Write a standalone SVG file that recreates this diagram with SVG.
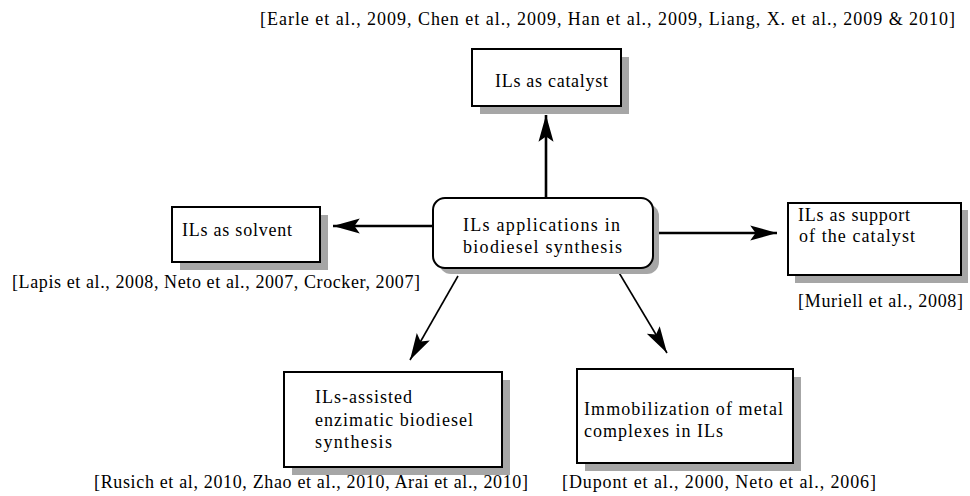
<svg xmlns="http://www.w3.org/2000/svg" width="970" height="496" viewBox="0 0 970 496">
<defs>
<style>
.box{fill:#fff;stroke:#000;stroke-width:2}
.sh{fill:#a6a6a6;stroke:none}
.thick{stroke:#000;stroke-width:2.6;fill:none}
.thin{stroke:#000;stroke-width:1.6;fill:none}
</style>
<marker id="ah" markerUnits="userSpaceOnUse" markerWidth="30" markerHeight="20" viewBox="-26 -8 28 16" refX="0" refY="0" orient="auto">
<path d="M0,0 L-25,-7 L-20,0 L-25,7 Z" fill="#000"/>
</marker>
</defs>
<rect width="970" height="496" fill="#fff"/>

<g id="connectors">
<line class="thick" x1="546" y1="198" x2="546" y2="115" marker-end="url(#ah)"/>
<line class="thick" x1="433" y1="226" x2="333" y2="226" marker-end="url(#ah)"/>
<line class="thick" x1="653" y1="233" x2="777" y2="233" marker-end="url(#ah)"/>
<line class="thin" x1="458" y1="276" x2="410" y2="360" marker-end="url(#ah)"/>
<line class="thin" x1="618" y1="271" x2="667" y2="353" marker-end="url(#ah)"/>
</g>

<g font-family="'Liberation Serif', 'Times New Roman', serif" font-size="18" fill="#000" lengthAdjust="spacing">
<g id="center">
<rect class="sh" x="439" y="204" width="220" height="70" rx="12"/>
<rect class="box" x="433" y="198" width="220" height="70" rx="12"/>
<text x="463" y="231" textLength="157" lengthAdjust="spacing">ILs applications in</text>
<text x="463" y="253" textLength="159" lengthAdjust="spacing">biodiesel synthesis</text>
</g>

<g id="catalyst">
<rect class="sh" x="480" y="57" width="149" height="57"/>
<rect class="box" x="472" y="49" width="149" height="57"/>
<text x="495" y="87" textLength="113" lengthAdjust="spacing">ILs as catalyst</text>
<text x="260" y="25" textLength="695" lengthAdjust="spacing">[Earle et al., 2009, Chen et al., 2009, Han et al., 2009, Liang, X. et al., 2009 &amp; 2010]</text>
</g>

<g id="solvent">
<rect class="sh" x="180" y="215" width="148" height="55"/>
<rect class="box" x="172" y="207" width="148" height="55"/>
<text x="182" y="236" textLength="110" lengthAdjust="spacing">ILs as solvent</text>
<text x="12" y="288" textLength="408" lengthAdjust="spacing">[Lapis et al., 2008, Neto et al., 2007, Crocker, 2007]</text>
</g>

<g id="support">
<rect class="sh" x="795" y="210" width="173" height="73"/>
<rect class="box" x="788" y="203" width="173" height="72"/>
<text x="798" y="221" textLength="112" lengthAdjust="spacing">ILs as support</text>
<text x="799" y="242" textLength="116" lengthAdjust="spacing">of the catalyst</text>
<text x="798" y="307" textLength="165" lengthAdjust="spacing">[Muriell et al., 2008]</text>
</g>

<g id="enzimatic">
<rect class="sh" x="292" y="380" width="218" height="95"/>
<rect class="box" x="284" y="372" width="218" height="95"/>
<text x="315" y="403" textLength="97" lengthAdjust="spacing">ILs-assisted</text>
<text x="315" y="426" textLength="158" lengthAdjust="spacing">enzimatic biodiesel</text>
<text x="315" y="448" textLength="77" lengthAdjust="spacing">synthesis</text>
<text x="94" y="488" textLength="434" lengthAdjust="spacing">[Rusich et al, 2010, Zhao et al., 2010, Arai et al., 2010]</text>
</g>

<g id="immobilization">
<rect class="sh" x="585" y="377" width="216" height="94"/>
<rect class="box" x="577" y="369" width="216" height="94"/>
<text x="584" y="415" textLength="199" lengthAdjust="spacing">Immobilization of metal</text>
<text x="584" y="437" textLength="139" lengthAdjust="spacing">complexes in ILs</text>
<text x="562" y="488" textLength="314" lengthAdjust="spacing">[Dupont et al., 2000, Neto et al., 2006]</text>
</g>
</g>
</svg>
